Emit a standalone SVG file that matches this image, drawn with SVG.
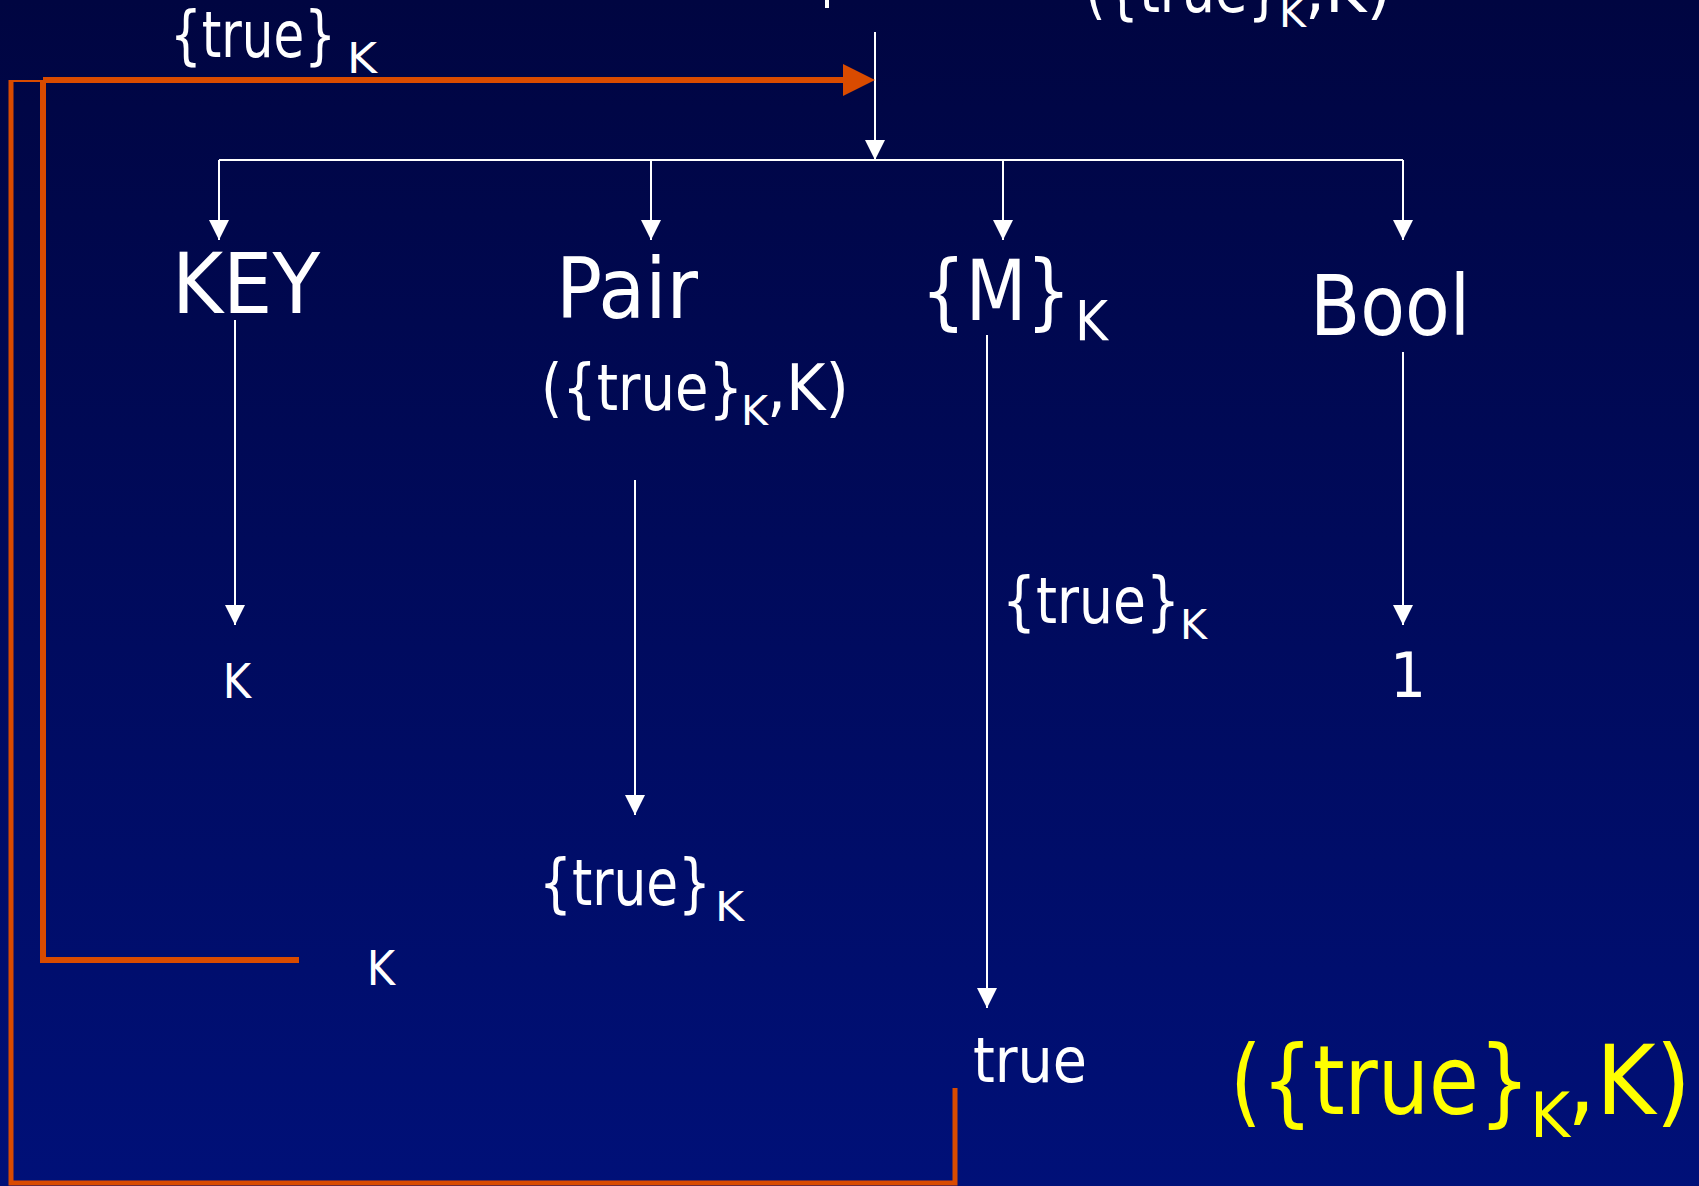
<svg xmlns="http://www.w3.org/2000/svg" width="1699" height="1186" viewBox="0 0 1699 1186">
<defs>
<linearGradient id="bg" x1="0" y1="0" x2="0" y2="1">
<stop offset="0" stop-color="#000541"/>
<stop offset="1" stop-color="#001078"/>
</linearGradient>
<marker id="wa" markerUnits="userSpaceOnUse" markerWidth="20" markerHeight="20" refX="20" refY="10" orient="auto">
<path d="M0,0 L20,10 L0,20 z" fill="#ffffff"/>
</marker>
<style>
text{font-family:"DejaVu Sans Condensed","DejaVu Sans","Liberation Sans",sans-serif;font-stretch:condensed;fill:#ffffff}
.big{font-size:84px}
.mid{font-size:64px}
.sub{font-size:40px}
.yel{fill:#ffff00}
.w{stroke:#ffffff;stroke-width:2;fill:none}
.wa{marker-end:url(#wa)}
.o{stroke:#d94b00;fill:none;stroke-linejoin:miter}
</style>
</defs>
<rect x="0" y="0" width="1699" height="1186" fill="url(#bg)"/>

<g id="connectors">
<path class="w wa" d="M875,32 V160"/>
<path class="w" d="M219,160 H1403"/>
<path class="w wa" d="M219,160 V240"/>
<path class="w wa" d="M651,160 V240"/>
<path class="w wa" d="M1003,160 V240"/>
<path class="w wa" d="M1403,160 V240"/>
<path class="w wa" d="M235,320 V625"/>
<path class="w wa" d="M635,480 V815"/>
<path class="w wa" d="M987,335 V1008"/>
<path class="w wa" d="M1403,352 V625"/>
<path class="o" stroke-width="5" d="M11,80 V1183 H955 V1088"/>
<path class="o" stroke-width="2" d="M11,81 H43"/>
<path class="o" stroke-width="6" d="M43,80 V960 H299"/>
<path class="o" stroke-width="6" d="M43,80 H846"/>
<polygon points="843,64 875,80 843,96" fill="#d94b00"/>
</g>

<g id="top-clipped">
<rect x="825" y="0" width="4" height="8" fill="#ffffff"/>
<text class="mid" x="1085" y="12" textLength="196" lengthAdjust="spacingAndGlyphs">({true}</text>
<text class="sub" x="1279" y="27" textLength="27" lengthAdjust="spacingAndGlyphs">K</text>
<text class="mid" x="1305" y="12" textLength="86" lengthAdjust="spacingAndGlyphs">,K)</text>
</g>

<g id="label-top-left">
<text class="mid" x="170" y="57" textLength="166" lengthAdjust="spacingAndGlyphs">{true}</text>
<text x="347" y="73" font-size="43" textLength="30" lengthAdjust="spacingAndGlyphs">K</text>
</g>

<g id="node-key">
<text class="big" x="172" y="313" textLength="148" lengthAdjust="spacingAndGlyphs">KEY</text>
</g>
<g id="node-pair">
<text class="big" x="556" y="318" textLength="142" lengthAdjust="spacingAndGlyphs">Pair</text>
<text class="mid" x="541" y="410" textLength="202" lengthAdjust="spacingAndGlyphs">({true}</text>
<text class="sub" x="741" y="425" textLength="27" lengthAdjust="spacingAndGlyphs">K</text>
<text class="mid" x="767" y="410" textLength="82" lengthAdjust="spacingAndGlyphs">,K)</text>
</g>
<g id="node-mk">
<text class="big" x="921" y="320" textLength="150" lengthAdjust="spacingAndGlyphs">{M}</text>
<text x="1075" y="340" font-size="56" textLength="33" lengthAdjust="spacingAndGlyphs">K</text>
</g>
<g id="node-bool">
<text class="big" x="1310" y="335" textLength="160" lengthAdjust="spacingAndGlyphs">Bool</text>
</g>

<g id="node-k1">
<text x="237" y="698" font-size="48" text-anchor="middle">K</text>
</g>
<g id="node-one">
<text x="1408" y="697" font-size="63" text-anchor="middle">1</text>
</g>
<g id="node-truek-mid">
<text class="mid" x="1002" y="623" textLength="178" lengthAdjust="spacingAndGlyphs">{true}</text>
<text class="sub" x="1180" y="639" textLength="27" lengthAdjust="spacingAndGlyphs">K</text>
</g>
<g id="node-truek-low">
<text class="mid" x="539" y="905" textLength="172" lengthAdjust="spacingAndGlyphs">{true}</text>
<text class="sub" x="715" y="921" textLength="29" lengthAdjust="spacingAndGlyphs">K</text>
</g>
<g id="node-k2">
<text x="381" y="985" font-size="48" text-anchor="middle">K</text>
</g>
<g id="node-true">
<text x="973" y="1082" font-size="62" textLength="114" lengthAdjust="spacingAndGlyphs">true</text>
</g>
<g id="result">
<text class="yel" x="1230" y="1114" font-size="96" textLength="300" lengthAdjust="spacingAndGlyphs">({true}</text>
<text class="yel" x="1530" y="1137" font-size="62" textLength="40" lengthAdjust="spacingAndGlyphs">K</text>
<text class="yel" x="1567" y="1114" font-size="96" textLength="124" lengthAdjust="spacingAndGlyphs">,K)</text>
</g>
</svg>
